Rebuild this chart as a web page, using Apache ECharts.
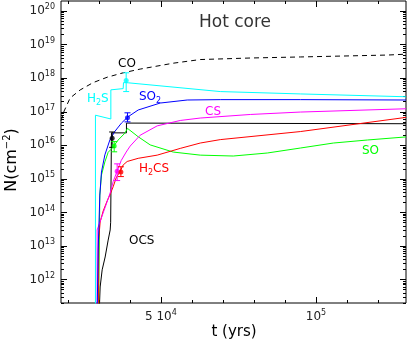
<!DOCTYPE html>
<html>
<head>
<meta charset="utf-8">
<title>Hot core</title>
<script src="https://cdn.jsdelivr.net/npm/echarts@6/dist/echarts.min.js"></script>
<style>
  html, body { margin: 0; padding: 0; background: #fff; }
  #main { width: 409px; height: 342px; }
</style>
</head>
<body>
<div id="main"></div>
<script>
// axis ranges and ticks
var xMin = 17800, xMax = 129000;
var yMin = 2e11, yMax = 2e20;
var xMinorTicks = [20000, 30000, 40000, 60000, 70000, 80000, 90000, 110000, 120000];
var xMajorTicks = [50000, 100000];
var xTickLabels = ['{b|5 10}{s|4}', '{b|10}{s|5}'];
var yMajorTicks = [1e12, 1e13, 1e14, 1e15, 1e16, 1e17, 1e18, 1e19, 1e20];

// column densities [t (yrs), N (cm^-2)]
var co = [[17800, 5.4e16], [18800, 1.05e17], [20740, 2.57e17], [23970, 4.47e17], [28160, 7.4e17],
  [32680, 1.07e18], [37840, 1.45e18], [43320, 1.87e18], [53970, 2.8e18], [62680, 3.6e18],
  [78800, 4.0e18], [94940, 4.3e18], [123000, 4.9e18], [129000, 5.2e18]];
var h2s = [[28900, 1e11], [28900, 7.9e16], [33870, 6.1e16], [33870, 4.5e17], [37840, 4.9e17],
  [37940, 7.4e17], [39450, 7.3e17], [69130, 4.0e17], [94940, 3.4e17], [129000, 2.8e17]];
var so2 = [[29450, 1e11], [29780, 7.6e12], [30320, 3.3e14], [30840, 1.6e15], [31940, 5.2e15],
  [33550, 1.44e16], [35160, 2.6e16], [37290, 4.6e16], [39230, 6.9e16], [42680, 1.13e17],
  [49780, 1.82e17], [58490, 2.24e17], [69130, 2.3e17], [94940, 2.3e17], [129000, 2.24e17]];
var ocs = [[30100, 1e11], [30420, 6e11], [31070, 1.95e12], [32030, 4.7e12], [33000, 1.5e13],
  [33650, 3.0e13], [33810, 5.1e13], [34065, 2.35e16], [38900, 2.35e16], [38900, 4.6e16],
  [129000, 4.4e16]];
var so = [[29900, 1e11], [30320, 3.3e14], [30840, 1.3e15], [31940, 3.2e15], [33000, 6.2e15],
  [34290, 8.2e15], [36230, 1.44e16], [38390, 2.3e16], [39230, 3.2e16], [42680, 1.8e16],
  [46550, 1.03e16], [53970, 6.3e15], [62680, 5.1e15], [73320, 4.8e15], [84290, 5.9e15],
  [94940, 8.3e15], [105580, 1.17e16], [116550, 1.44e16], [129000, 1.78e16]];
var cs = [[29450, 1e11], [29450, 3e13], [33645, 3.8e14], [34613, 8.3e14], [35900, 1.7e15],
  [37190, 3.5e15], [38810, 6.3e15], [40100, 9.5e15], [43320, 2.0e16], [48810, 3.8e16],
  [56230, 5.5e16], [62680, 6.5e16], [78810, 8.3e16], [94940, 9.8e16], [129000, 1.23e17]];
var h2cs = [[29935, 1e11], [29935, 1.5e13], [30420, 5.2e13], [31390, 1.1e14], [32680, 2.2e14],
  [33650, 3.5e14], [34610, 5.8e14], [35580, 1.07e15], [36870, 1.7e15], [37840, 2.6e15],
  [39130, 3.3e15], [42680, 4.1e15], [48810, 5.1e15], [56230, 8.1e15], [62680, 1.17e16],
  [69130, 1.48e16], [94940, 2.57e16], [129000, 6.8e16]];

// observed values: t, N, low, high
var obsT = [38810, 39230, 34290, 34940, 35900, 37100];
var obsN = [8.5e17, 6.6e16, 1.62e16, 9.5e15, 1.7e15, 1.6e15];
var obsLo = [4.0e17, 5.0e16, 8.7e15, 6.4e15, 8.9e14, 1.17e15];
var obsHi = [1.45e18, 9.3e16, 2.5e16, 1.29e16, 2.8e15, 2.3e15];
var obsColor = ['#00ffff', '#0000ff', '#000000', '#00ff00', '#ff00ff', '#ff0000'];

var yMinorTicks = [];
for (var d = 11; d < 20; d++) {
  for (var m = 2; m < 10; m++) {
    var v = m * Math.pow(10, d);
    if (v >= yMin && v <= yMax) yMinorTicks.push(v);
  }
}

var font = 'DejaVu Sans';
var tickRich = {
  b: { fontSize: 12, lineHeight: 16, fontFamily: font, color: '#222' },
  s: { fontSize: 8, lineHeight: 8, fontFamily: font, color: '#222', verticalAlign: 'top' }
};

function xAx(pos, ticks, len, withLabels) {
  return {
    type: 'value', position: pos, min: xMin, max: xMax,
    axisLine: { show: false }, splitLine: { show: false },
    axisTick: { show: true, inside: true, length: len, customValues: ticks,
      lineStyle: { color: '#000', width: 1 } },
    axisLabel: { show: withLabels, customValues: xMajorTicks, margin: 6, rich: tickRich,
      formatter: function (v) { return xTickLabels[xMajorTicks.indexOf(v)] || ''; } }
  };
}
function yAx(pos, ticks, len, withLabels) {
  return {
    type: 'log', logBase: 10, position: pos, min: yMin, max: yMax,
    axisLine: { show: false }, splitLine: { show: false }, minorTick: { show: false },
    axisTick: { show: true, inside: true, length: len, customValues: ticks,
      lineStyle: { color: '#000', width: 1 } },
    axisLabel: { show: withLabels, customValues: yMajorTicks, margin: 6, rich: tickRich,
      formatter: function (v) {
        var e = Math.round(Math.log10(v));
        return '{b|10}{s|' + e + '}';
      } }
  };
}

function curve(name, data, color, dashed) {
  return {
    name: name, type: 'line', data: data, showSymbol: false, symbol: 'none',
    clip: true, silent: true, xAxisIndex: 0, yAxisIndex: 0,
    lineStyle: { color: color, width: 1, type: dashed ? [5, 4] : 'solid' }
  };
}

var obsData = [];
for (var i = 0; i < obsT.length; i++) {
  obsData.push({ value: [obsT[i], obsN[i], obsLo[i], obsHi[i]], itemStyle: { color: obsColor[i] } });
}

var myChart = echarts.init(document.getElementById('main'));

var option = {
  animation: false,
  backgroundColor: '#fff',
  grid: { left: 61, top: 1, width: 345, height: 302, show: true,
    borderColor: '#000', borderWidth: 1, backgroundColor: 'transparent' },
  xAxis: [xAx('bottom', xMinorTicks, 3, true), xAx('bottom', xMajorTicks, 6, false),
          xAx('top', xMinorTicks, 3, false), xAx('top', xMajorTicks, 6, false)],
  yAxis: [yAx('left', yMajorTicks, 6, true), yAx('left', yMinorTicks, 3, false),
          yAx('right', yMajorTicks, 6, false), yAx('right', yMinorTicks, 3, false)],
  series: [
    curve('CO', co, '#000000', true),
    curve('OCS', ocs, '#000000'),
    curve('SO', so, '#00ff00'),
    curve('H2CS', h2cs, '#ff0000'),
    curve('CS', cs, '#ff00ff'),
    curve('SO2', so2, '#0000ff'),
    curve('H2S', h2s, '#00ffff'),
    {
      type: 'custom', data: obsData, encode: { x: 0, y: [1, 2, 3] }, z: 5,
      renderItem: function (params, api) {
        var c = api.visual('color');
        var lo = api.coord([api.value(0), api.value(2)]);
        var hi = api.coord([api.value(0), api.value(3)]);
        var s = { stroke: c, lineWidth: 1 };
        return { type: 'group', children: [
          { type: 'line', shape: { x1: lo[0], y1: lo[1], x2: hi[0], y2: hi[1] }, style: s },
          { type: 'line', shape: { x1: lo[0] - 3, y1: lo[1], x2: lo[0] + 3, y2: lo[1] }, style: s },
          { type: 'line', shape: { x1: hi[0] - 3, y1: hi[1], x2: hi[0] + 3, y2: hi[1] }, style: s }
        ] };
      }
    },
    {
      type: 'scatter', data: obsData, symbol: 'circle', symbolSize: 5, z: 6,
      encode: { x: 0, y: 1 }
    }
  ],
  graphic: [
    { type: 'text', x: 199, y: 23, style: { text: 'Hot core', fill: '#333', font: '17px DejaVu Sans', verticalAlign: 'middle' } },
    { type: 'text', x: 118, y: 64, style: { text: 'CO', fill: '#000', font: '12px DejaVu Sans', verticalAlign: 'middle' } },
    { type: 'text', x: 87, y: 99, style: { text: '{a|H}{s|2}{a|S}', fill: '#00ffff', verticalAlign: 'middle',
      rich: { a: { fontSize: 12, lineHeight: 16, fontFamily: font, fill: '#00ffff' },
              s: { fontSize: 8, lineHeight: 8, fontFamily: font, fill: '#00ffff', verticalAlign: 'bottom' } } } },
    { type: 'text', x: 139, y: 97, style: { text: '{a|SO}{s|2}', fill: '#0000ff', verticalAlign: 'middle',
      rich: { a: { fontSize: 12, lineHeight: 16, fontFamily: font, fill: '#0000ff' },
              s: { fontSize: 8, lineHeight: 8, fontFamily: font, fill: '#0000ff', verticalAlign: 'bottom' } } } },
    { type: 'text', x: 205, y: 112, style: { text: 'CS', fill: '#ff00ff', font: '12px DejaVu Sans', verticalAlign: 'middle' } },
    { type: 'text', x: 139, y: 169, style: { text: '{a|H}{s|2}{a|CS}', fill: '#ff0000', verticalAlign: 'middle',
      rich: { a: { fontSize: 12, lineHeight: 16, fontFamily: font, fill: '#ff0000' },
              s: { fontSize: 8, lineHeight: 8, fontFamily: font, fill: '#ff0000', verticalAlign: 'bottom' } } } },
    { type: 'text', x: 362, y: 151, style: { text: 'SO', fill: '#00ff00', font: '12px DejaVu Sans', verticalAlign: 'middle' } },
    { type: 'text', x: 129, y: 241, style: { text: 'OCS', fill: '#000', font: '12px DejaVu Sans', verticalAlign: 'middle' } },
    { type: 'text', x: 234, y: 332, style: { text: 't (yrs)', fill: '#000', font: '15px DejaVu Sans', align: 'center', verticalAlign: 'middle' } },
    { type: 'text', x: 12, y: 160, rotation: Math.PI / 2, style: { text: '{a|N(cm}{s|\u22122}{a|)}', fill: '#000',
      align: 'center', verticalAlign: 'middle',
      rich: { a: { fontSize: 16, lineHeight: 20, fontFamily: font, fill: '#000' },
              s: { fontSize: 10, lineHeight: 10, fontFamily: font, fill: '#000', verticalAlign: 'top' } } } }
  ]
};

myChart.setOption(option);
</script>
</body>
</html>
